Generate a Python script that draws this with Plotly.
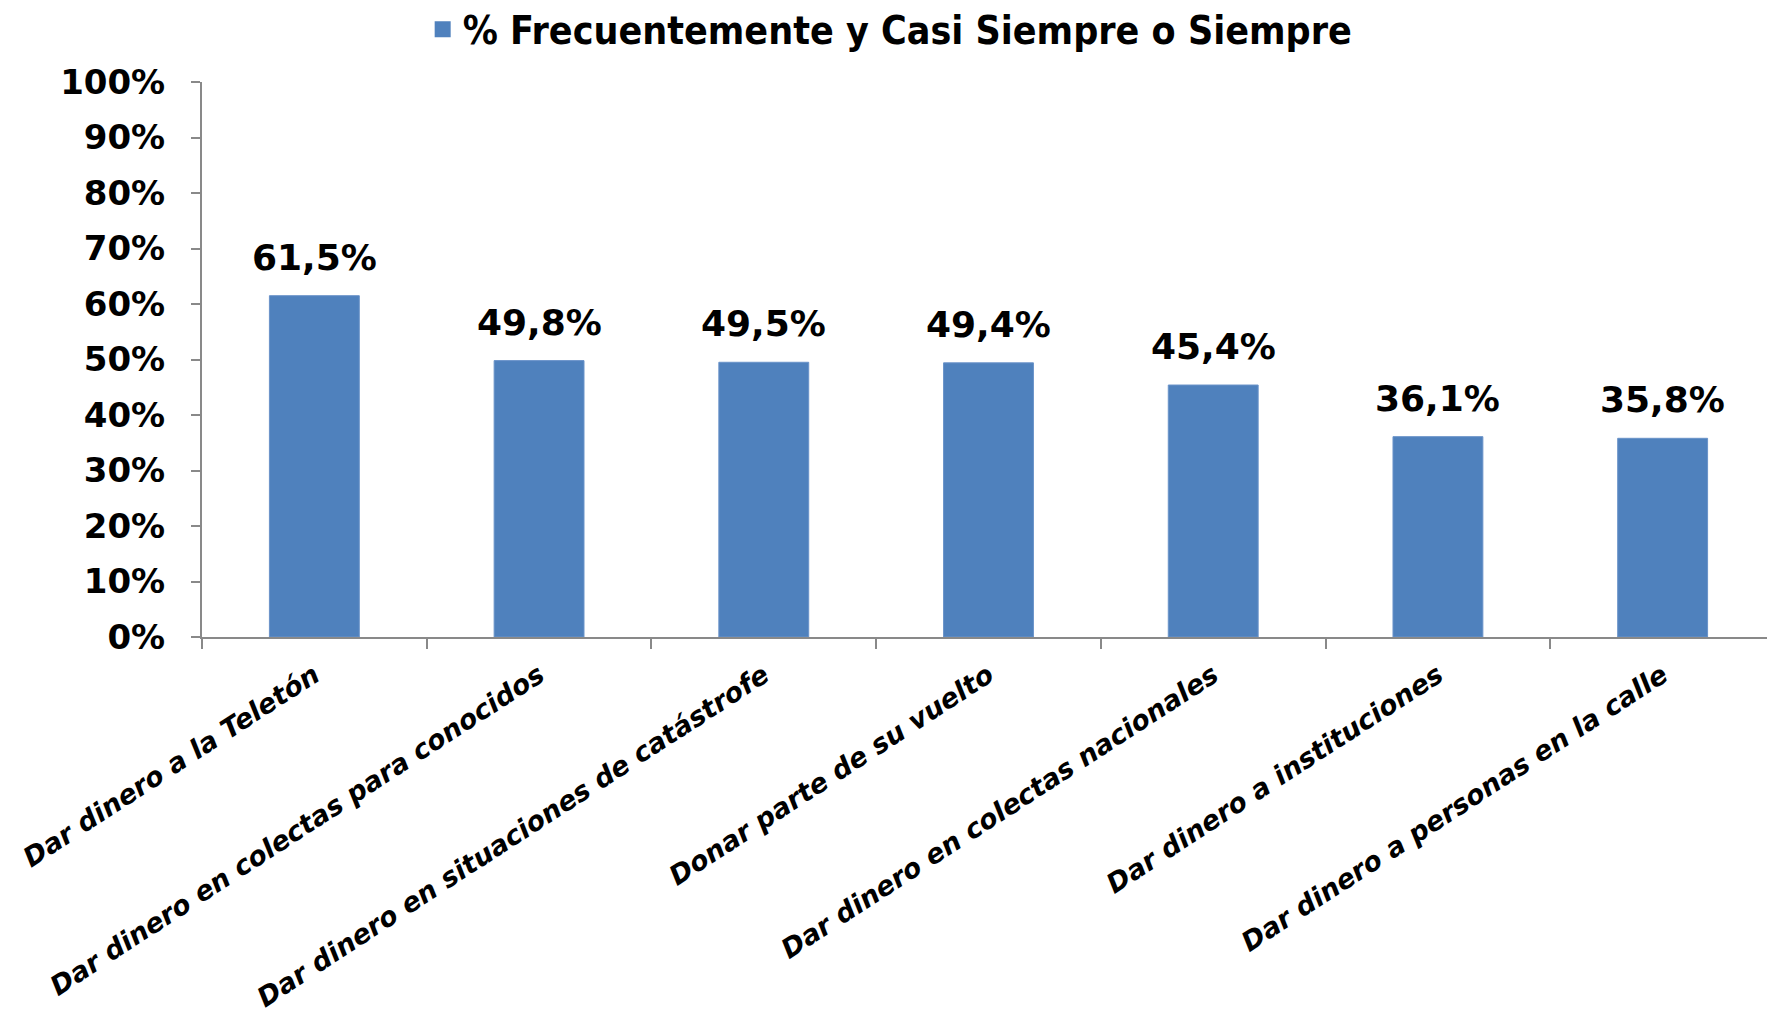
import plotly.graph_objects as go

categories = [
    "Dar dinero a la Teletón",
    "Dar dinero en colectas para conocidos",
    "Dar dinero en situaciones de catástrofe",
    "Donar parte de su vuelto",
    "Dar dinero en colectas nacionales",
    "Dar dinero a instituciones",
    "Dar dinero a personas en la calle",
]
values = [61.5, 49.8, 49.5, 49.4, 45.4, 36.1, 35.8]
labels = ["61,5%", "49,8%", "49,5%", "49,4%", "45,4%", "36,1%", "35,8%"]
series_name = "% Frecuentemente y Casi Siempre o Siempre"
tick_vals = [0, 10, 20, 30, 40, 50, 60, 70, 80, 90, 100]
tick_text = ["0%", "10%", "20%", "30%", "40%", "50%", "60%", "70%", "80%", "90%", "100%"]

FONT = "DejaVu Sans"
AXIS = "#898989"
BAR = "#4F81BD"

fig = go.Figure()
fig.add_trace(go.Bar(
    x=categories, y=values, name=series_name, showlegend=False,
    marker=dict(color=BAR, line=dict(color="#6A93C9", width=1)),
))
# legend entry with a larger square swatch
fig.add_trace(go.Scatter(
    x=[None], y=[None], mode="markers", name=series_name,
    marker=dict(symbol="square", size=16, color=BAR),
))

for cat, val, lab in zip(categories, values, labels):
    fig.add_annotation(
        x=cat, y=val, text=lab, showarrow=False,
        xanchor="center", yanchor="bottom", yshift=16,
        font=dict(family=FONT, size=36, color="black", weight="bold"),
    )

fig.update_layout(
    width=1775, height=1015,
    paper_bgcolor="white", plot_bgcolor="white",
    margin=dict(l=194, r=8, t=74, b=386),
    bargap=0.6,
    showlegend=True,
    legend=dict(
        orientation="h", xref="container", yref="container",
        x=0.497, y=0.979, xanchor="center", yanchor="middle",
        font=dict(family="DejaVu Sans Condensed", size=39, color="black", weight="bold"),
    ),
    xaxis=dict(
        showline=True, linecolor=AXIS, linewidth=2,
        ticks="outside", ticklen=10, tickcolor=AXIS, tickwidth=2,
        tickson="boundaries",
        tickangle=-33, automargin=False, ticklabelstandoff=10,
        tickfont=dict(family=FONT, size=27, color="black", weight="bold", style="italic"),
    ),
    yaxis=dict(
        range=[0, 100], tickvals=tick_vals, ticktext=tick_text,
        showline=True, linecolor=AXIS, linewidth=2,
        ticks="outside", ticklen=9, tickcolor=AXIS, tickwidth=2,
        showgrid=False, zeroline=False, automargin=False,
        ticklabelstandoff=19,
        tickfont=dict(family=FONT, size=34, color="black", weight="bold"),
    ),
)

fig.write_html("out.html")
